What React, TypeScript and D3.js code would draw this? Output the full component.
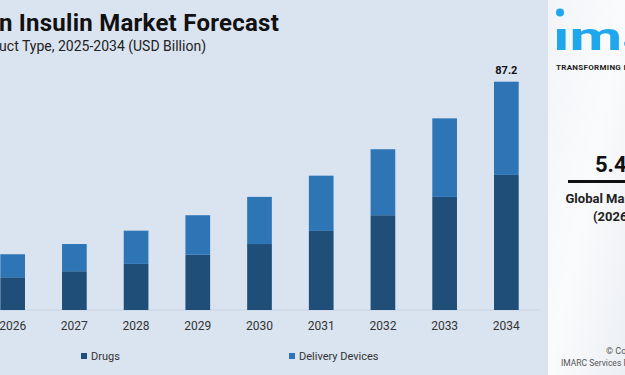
import React from "react";
import * as d3 from "d3";

const years = ["2026", "2027", "2028", "2029", "2030", "2031", "2032", "2033", "2034"];
const drugs = [12.5, 14.8, 17.6, 21.1, 25.2, 30.2, 36.2, 43.2, 51.6];
const devices = [8.8, 10.4, 12.7, 15.1, 18.0, 21.1, 25.2, 30.0, 35.6];
const seriesNames = ["Drugs", "Delivery Devices"];
const seriesColors = ["#1f4e79", "#2e75b6"];
const totalLabel = "87.2";

const W = 625;
const H = 375;

export default function App() {
  const rows = years.map((y, i) => ({ year: y, Drugs: drugs[i], "Delivery Devices": devices[i] }));
  const stack = d3.stack<any>().keys(seriesNames)(rows);
  const x = d3.scaleBand().domain(years).range([-18.2, 537.2]).paddingInner(0.6).paddingOuter(0.3);
  const y = d3.scaleLinear().domain([0, 87.2]).range([310, 81.7]);
  const font = "Roboto, 'Open Sans', sans-serif";
  const last = years.length - 1;
  return (
    <svg width={W} height={H} style={{ position: "absolute", left: 0, top: 0 }} fontFamily={font}>
      <defs>
        <linearGradient id="panel" x1="0" y1="0" x2="1" y2="1">
          <stop offset="0" stopColor="#f2f4f8" />
          <stop offset="0.5" stopColor="#fafbfc" />
          <stop offset="1" stopColor="#eceff4" />
        </linearGradient>
      </defs>
      <rect x={0} y={0} width={W} height={H} fill="#dae3f0" />
      <text x={279} y={31} textAnchor="end" fontSize={24} fontWeight={700} fill="#111" letterSpacing={0.25}>
        Human Insulin Market Forecast
      </text>
      <text x={206} y={51} textAnchor="end" fontSize={14} fill="#222">
        Breakup by Product Type, 2025-2034 (USD Billion)
      </text>
      <line x1={0} x2={540} y1={y(0)} y2={y(0)} stroke="#c9d3e2" strokeWidth={1} />
      {stack.map((s, si) => (
        <g key={s.key} fill={seriesColors[si]}>
          {s.map((d, i) => (
            <rect key={i} x={x(years[i])} width={x.bandwidth()} y={y(d[1])} height={y(d[0]) - y(d[1])} />
          ))}
        </g>
      ))}
      {years.map((yr) => (
        <text key={yr} x={(x(yr) as number) + x.bandwidth() / 2} y={330} textAnchor="middle" fontSize={12} fill="#333">
          {yr}
        </text>
      ))}
      <text
        x={(x(years[last]) as number) + x.bandwidth() / 2}
        y={74}
        textAnchor="middle"
        fontSize={11}
        fontWeight={700}
        fill="#111"
      >
        {totalLabel}
      </text>
      {seriesNames.map((n, i) => {
        const lx = [81, 289][i];
        return (
          <g key={n}>
            <rect x={lx} y={353} width={6} height={6} fill={seriesColors[i]} />
            <text x={lx + 10} y={360} fontSize={11} fill="#333">
              {n}
            </text>
          </g>
        );
      })}
      <rect x={548} y={0} width={77} height={H} fill="url(#panel)" />
      <circle cx={560} cy={12.5} r={4} fill="#1ea7ec" />
      <text transform="translate(553,50) scale(1.6,1)" fontSize={38} fontWeight={700} fill="#1ea7ec">
        ımarc
      </text>
      <text x={556} y={70} fontSize={8} fontWeight={700} fill="#222" letterSpacing={0.3}>
        TRANSFORMING IDEAS INTO IMPACT
      </text>
      <text x={595} y={172} fontSize={22} fontWeight={700} fill="#111">
        5.49%
      </text>
      <line x1={568} x2={660} y1={181.5} y2={181.5} stroke="#111" strokeWidth={3} />
      <text x={565.5} y={203} fontSize={13} fontWeight={700} fill="#222">
        Global Market Growth Rate
      </text>
      <text x={593} y={221} fontSize={13} fontWeight={700} fill="#222">
        (2026-2034)
      </text>
      <text x={606} y={354} fontSize={9} fill="#555">
        © Copyright
      </text>
      <text x={561} y={366} fontSize={8.5} fill="#555">
        IMARC Services Pvt Ltd.
      </text>
    </svg>
  );
}
